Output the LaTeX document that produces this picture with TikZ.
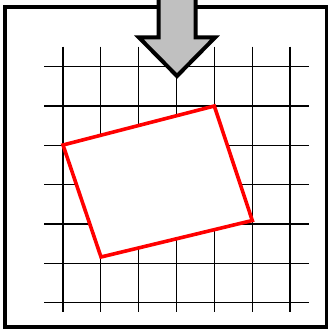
\documentclass[tikz,border=0pt]{standalone}
\usetikzlibrary{calc}
\definecolor{arrowgray}{RGB}{192,192,192}
\tikzset{
  gridline/.style={line width=1.3pt, draw=black},
  frame/.style={line width=4.2pt, draw=black},
  redbox/.style={line width=3.6pt, draw=red, fill=white, line join=miter},
  bigarrow/.style={line width=4pt, draw=black, fill=arrowgray, line join=miter}
}
\begin{document}
\begin{tikzpicture}[x=1pt,y=-1pt]
  \useasboundingbox (0,0) rectangle (328,329);
  % grid
  \foreach \k in {0,...,6} {
    \draw[gridline] ({63+37.83*\k},46.7) -- ({63+37.83*\k},311.7);
    \draw[gridline] (44,{66.7+39.33*\k}) -- (309.3,{66.7+39.33*\k});
  }
  % outer frame
  \draw[frame] (5,7) rectangle (327.5,327.5);
  % red rotated rectangle
  \coordinate (L) at (63,145);
  \coordinate (T) at (214.3,106);
  \coordinate (R) at (252.3,220.5);
  \coordinate (B) at (101,257);
  \draw[redbox] (L) -- (T) -- (R) -- (B) -- cycle;
  % arrow
  \draw[bigarrow] (158.5,-10) -- (158.5,37.5) -- (139,37.5) -- (177,76)
    -- (215,37.5) -- (195.5,37.5) -- (195.5,-10) -- cycle;
\end{tikzpicture}
\end{document}
